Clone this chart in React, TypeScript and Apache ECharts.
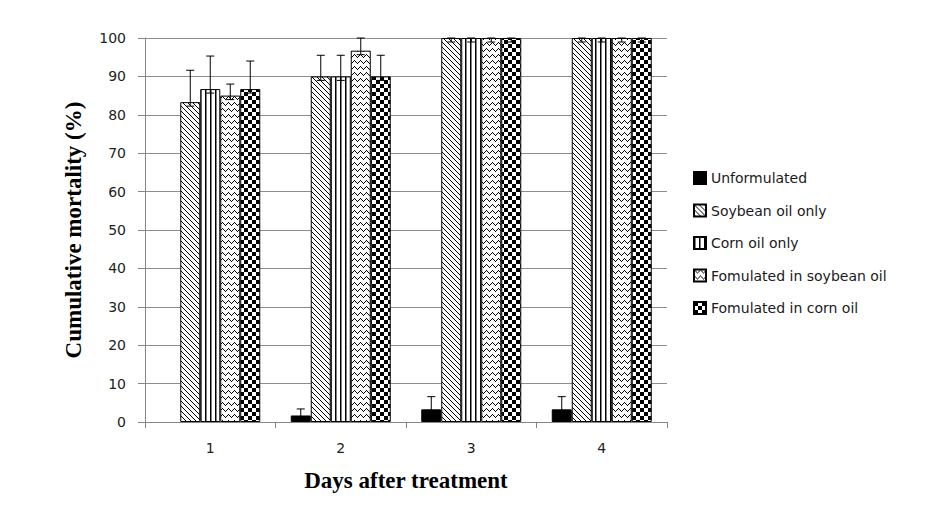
import React, { useEffect, useRef } from "react";
import * as echarts from "echarts";

const categories = ["1", "2", "3", "4"];
const seriesNames = [
  "Unformulated",
  "Soybean oil only",
  "Corn oil only",
  "Fomulated in soybean oil",
  "Fomulated in corn oil",
];
const unformulated = [0, 1.7, 3.3, 3.3];
const unformulatedErr = [0, 1.7, 3.3, 3.3];
const soybeanOnly = [83.3, 90, 100, 100];
const soybeanOnlyErr = [8.3, 5.5, 0, 0];
const cornOnly = [86.7, 90, 100, 100];
const cornOnlyErr = [8.6, 5.5, 0, 0];
const formSoybean = [85, 96.7, 100, 100];
const formSoybeanErr = [3, 3.3, 0, 0];
const formCorn = [86.7, 90, 100, 100];
const formCornErr = [7.3, 5.5, 0, 0];
const yTicks = [0, 10, 20, 30, 40, 50, 60, 70, 80, 90, 100];

function makeCanvas(w: number, h: number, draw: (ctx: CanvasRenderingContext2D) => void) {
  const c = document.createElement("canvas");
  c.width = w;
  c.height = h;
  const ctx = c.getContext("2d")!;
  ctx.fillStyle = "#ffffff";
  ctx.fillRect(0, 0, w, h);
  ctx.fillStyle = "#000000";
  draw(ctx);
  return c;
}

function patterns() {
  const diag = makeCanvas(5, 5, (ctx) => {
    for (let i = 0; i < 5; i++) ctx.fillRect(i, i, 1, 1);
  });
  const vert = makeCanvas(5, 5, (ctx) => {
    ctx.fillRect(0, 0, 1.5, 5);
  });
  const zig = makeCanvas(6, 6, (ctx) => {
    const ys = [0, 1, 2, 3, 2, 1];
    ys.forEach((y, x) => ctx.fillRect(x, y, 1, 1));
  });
  const check = makeCanvas(8, 8, (ctx) => {
    ctx.fillRect(0, 0, 4, 4);
    ctx.fillRect(4, 4, 4, 4);
  });
  return [
    "#000000",
    { image: diag, repeat: "repeat" },
    { image: vert, repeat: "repeat" },
    { image: zig, repeat: "repeat" },
    { image: check, repeat: "repeat" },
  ];
}

export default function App() {
  const ref = useRef<HTMLDivElement>(null);
  useEffect(() => {
    if (!ref.current) return;
    const chart = echarts.init(ref.current, null, { renderer: "svg" });
    const values = [unformulated, soybeanOnly, cornOnly, formSoybean, formCorn];
    const errs = [unformulatedErr, soybeanOnlyErr, cornOnlyErr, formSoybeanErr, formCornErr];
    const fills = patterns();
    const BAR_W = 20;

    const errData: number[][] = [];
    values.forEach((vals, s) => {
      vals.forEach((v, c) => {
        if (v > 0) errData.push([c, s, v, errs[s][c]]);
      });
    });

    const barSeries = seriesNames.map((name, s) => ({
      name,
      type: "bar",
      data: values[s].map((v) => (v === 0 ? "-" : v)),
      barWidth: BAR_W,
      barGap: "0%",
      itemStyle: { color: fills[s] as any, borderColor: "#000", borderWidth: 1 },
      emphasis: { disabled: true },
    }));

    chart.setOption({
      animation: false,
      textStyle: { fontFamily: "DejaVu Sans" },
      grid: { left: 145, top: 38, width: 522, height: 384 },
      legend: {
        orient: "vertical",
        left: 693,
        top: 171,
        padding: 0,
        icon: "rect",
        itemWidth: 12,
        itemHeight: 12,
        itemGap: 18.5,
        data: seriesNames,
        textStyle: { fontSize: 14, color: "#1a1a1a", fontFamily: "DejaVu Sans" },
        selectedMode: false,
      },
      xAxis: {
        type: "category",
        data: categories,
        name: "Days after treatment",
        nameLocation: "middle",
        nameGap: 47,
        nameTextStyle: { fontFamily: "Liberation Serif", fontWeight: "bold", fontSize: 23, color: "#000" },
        axisLine: { lineStyle: { color: "#868686" } },
        axisTick: { show: true, length: 6, lineStyle: { color: "#868686" } },
        axisLabel: { fontSize: 14, color: "#222", margin: 19 },
      },
      yAxis: {
        type: "value",
        min: 0,
        max: 100,
        interval: 10,
        name: "Cumulative mortality (%)",
        nameLocation: "middle",
        nameGap: 60,
        nameTextStyle: { fontFamily: "Liberation Serif", fontWeight: "bold", fontSize: 23, color: "#000" },
        axisLine: { show: true, lineStyle: { color: "#868686" } },
        axisTick: { show: true, length: 7, lineStyle: { color: "#868686" } },
        axisLabel: { fontSize: 14, color: "#222", margin: 19, formatter: (v: number) => (yTicks.includes(v) ? String(v) : "") },
        splitLine: { lineStyle: { color: "#8c8c8c" } },
      },
      series: [
        ...barSeries,
        {
          type: "custom",
          name: "err",
          data: errData,
          encode: { x: 0, y: 2 },
          clip: false,
          z: 10,
          renderItem: (params: any, api: any) => {
            const c = api.value(0);
            const s = api.value(1);
            const v = api.value(2);
            const e = api.value(3);
            const base = api.coord([c, v]);
            const top = api.coord([c, v + e]);
            const x = base[0] + (s - 2) * BAR_W;
            const yb = base[1] + 4;
            const yt = top[1];
            const hw = 4;
            const st = { stroke: "#000", lineWidth: 1 };
            return {
              type: "group",
              children: [
                { type: "line", shape: { x1: x, y1: yt, x2: x, y2: yb }, style: st },
                { type: "line", shape: { x1: x - hw, y1: yt, x2: x + hw, y2: yt }, style: st },
                { type: "line", shape: { x1: x - hw, y1: yb, x2: x + hw, y2: yb }, style: st },
              ],
            };
          },
        },
      ],
    } as any);
    return () => chart.dispose();
  }, []);
  return (
    <div
      ref={ref}
      style={{ position: "fixed", left: 0, top: 0, width: 928, height: 520, background: "#fff" }}
    />
  );
}
